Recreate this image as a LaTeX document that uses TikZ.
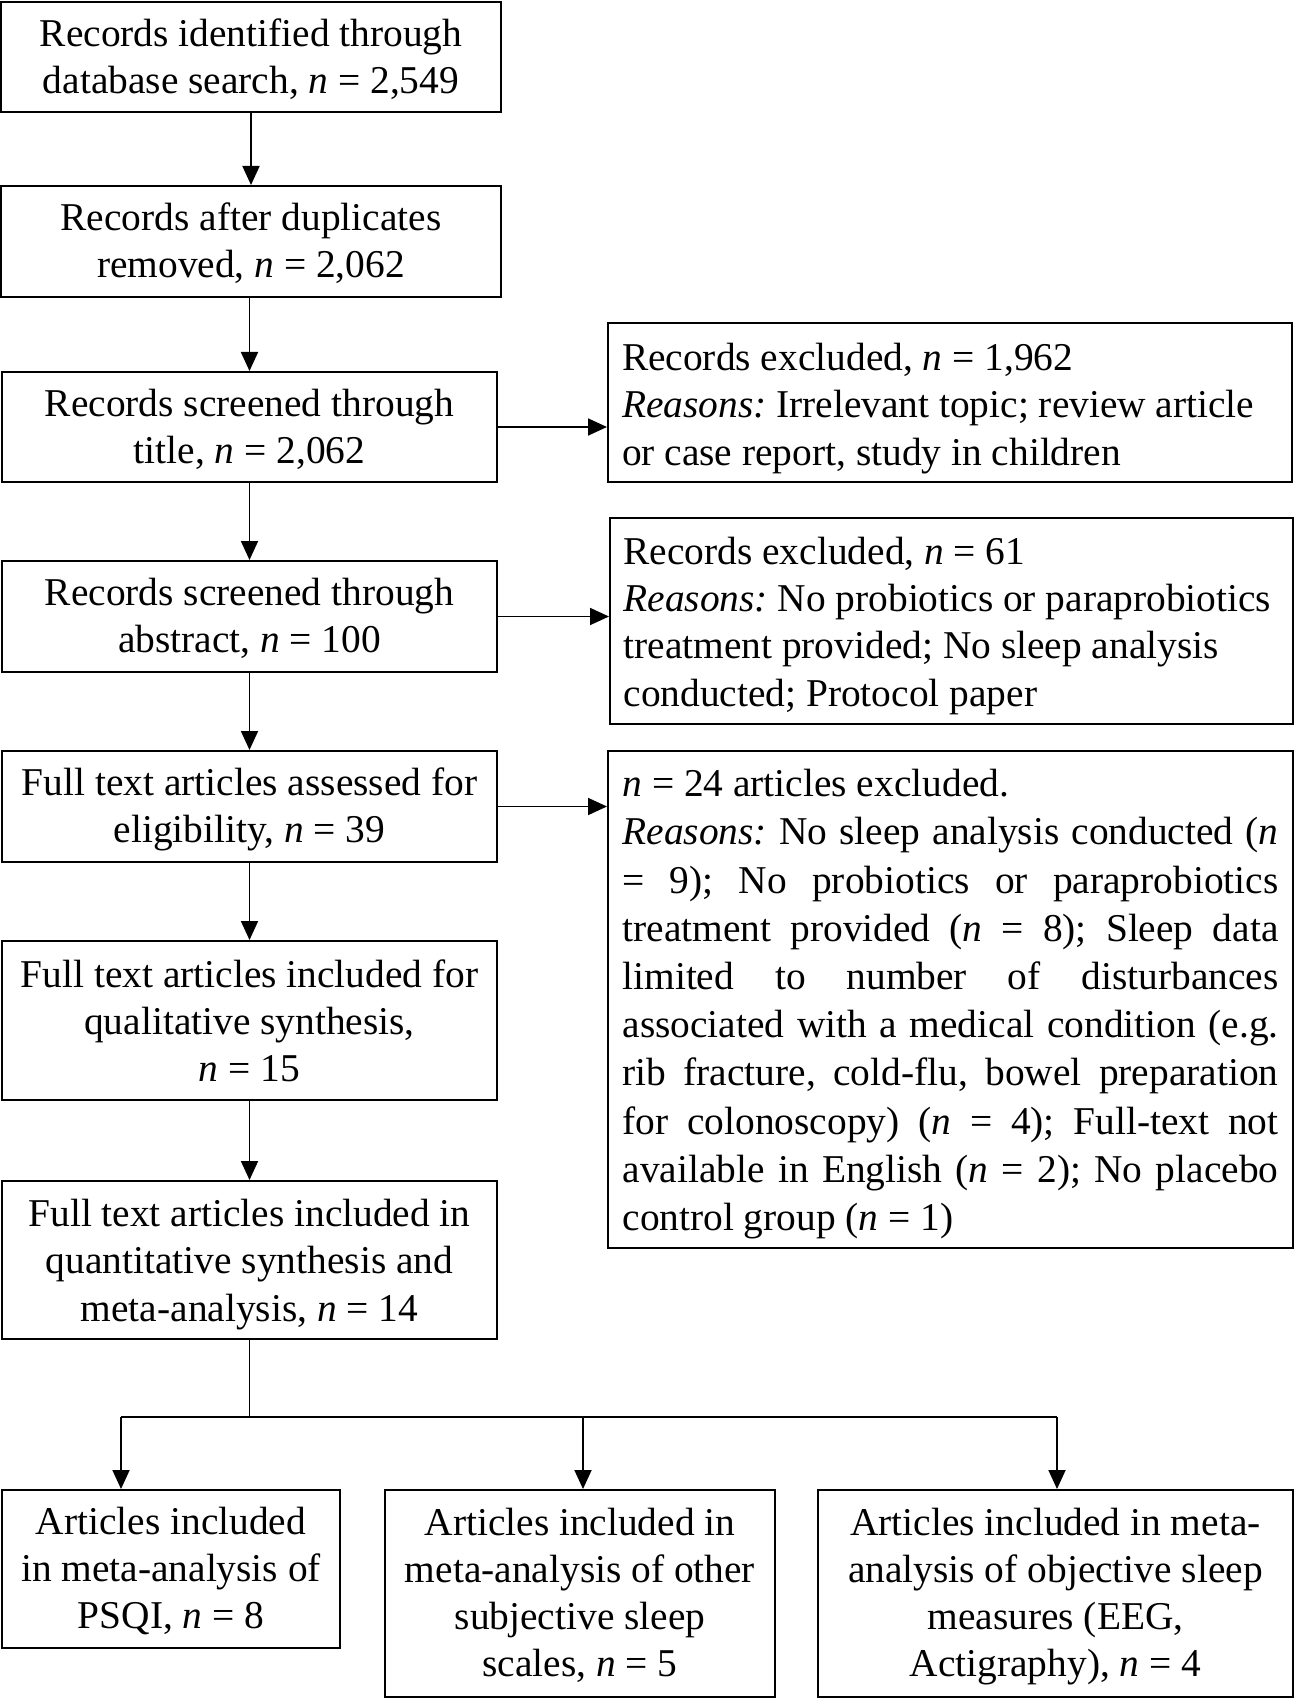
\documentclass[tikz,border=0pt]{standalone}
\usepackage{fontspec}
\setmainfont{Liberation Serif}
\usetikzlibrary{arrows.meta}
\frenchspacing
\newlength{\rcw}
\setlength{\rcw}{328pt}
\newcommand{\rsp}{\spaceskip=0pt\xspaceskip=0pt\relax}
\newcommand{\jline}[1]{\makebox[\rcw][s]{\rsp #1}}
\newcommand{\lline}[1]{\makebox[\rcw][l]{\rsp #1}}
\newcommand{\tb}[3][-1.6pt]{\raisebox{#1}[\height][\depth]{\rsp\begin{tabular}{@{}#2@{}}#3\end{tabular}}}
\begin{document}
\begin{tikzpicture}[x=0.5pt,y=-0.5pt,
  every node/.style={font=\fontsize{19.7}{23.6}\selectfont\rsp, execute at begin node=\rsp},
  mbox/.style={draw, line width=1pt, inner sep=0pt},
  arr/.style={-{Triangle[length=9.5pt,width=8.5pt]}, line width=0.9pt},
  ln/.style={line width=0.9pt}]
\fill[white] (0,0) rectangle (1296,1701);
\useasboundingbox (0,0) rectangle (1296,1701);

% main column
\node[mbox, minimum width=250pt, minimum height=55pt] (b1) at (251,57)
  {\tb{c}{Records identified through\\database search, \textit{n} = 2,549}};
\node[mbox, minimum width=250pt, minimum height=55.5pt] (b2) at (251,241.5)
  {\tb{c}{Records after duplicates\\removed, \textit{n} = 2,062}};
\node[mbox, minimum width=247.5pt, minimum height=55pt] (b3) at (249.5,427)
  {\tb{c}{Records screened through\\title, \textit{n} = 2,062}};
\node[mbox, minimum width=247.5pt, minimum height=55.5pt] (b4) at (249.5,616.5)
  {\tb{c}{Records screened through\\abstract, \textit{n} = 100}};
\node[mbox, minimum width=247.5pt, minimum height=55.5pt] (b5) at (249.5,806.5)
  {\tb{c}{Full text articles assessed for\\eligibility, \textit{n} = 39}};
\node[mbox, minimum width=247.5pt, minimum height=79.5pt] (b6) at (249.5,1020.5)
  {\tb[-2.2pt]{c}{Full text articles included for\\qualitative synthesis,\\\textit{n} = 15}};
\node[mbox, minimum width=247.5pt, minimum height=79pt] (b7) at (249.5,1260)
  {\tb[-2.2pt]{c}{Full text articles included in\\quantitative synthesis and\\meta-analysis, \textit{n} = 14}};

% right column
\node[mbox, minimum width=342pt, minimum height=79.5pt] (rA) at (950,402.5)
  {\tb[-3pt]{l}{\lline{Records excluded, \textit{n} = 1,962}\\
   \lline{\textit{Reasons:} Irrelevant topic; review article}\\
   \lline{or case report, study in children}}};
\node[mbox, minimum width=341.5pt, minimum height=103pt] (rB) at (951.5,621)
  {\tb[-2.4pt]{l}{\lline{Records excluded, \textit{n} = 61}\\
   \lline{\textit{Reasons:} No probiotics or paraprobiotics}\\
   \lline{treatment provided; No sleep analysis}\\
   \lline{conducted; Protocol paper}}};
\node[mbox, minimum width=342.5pt, minimum height=248.5pt,
      font=\fontsize{19.7}{24.1}\selectfont\rsp] (rC) at (950.5,999.5)
  {\tb[-2.2pt]{l}{\lline{\textit{n} = 24 articles excluded.}\\
   \jline{\textit{Reasons:} No sleep analysis conducted (\textit{n}}\\
   \jline{= 9); No probiotics or paraprobiotics}\\
   \jline{treatment provided (\textit{n} = 8); Sleep data}\\
   \jline{limited to number of disturbances}\\
   \jline{associated with a medical condition (e.g.}\\
   \jline{rib fracture, cold-flu, bowel preparation}\\
   \jline{for colonoscopy) (\textit{n} = 4); Full-text not}\\
   \jline{available in English (\textit{n} = 2); No placebo}\\
   \lline{control group (\textit{n} = 1)}}};

% bottom row
\node[mbox, minimum width=169pt, minimum height=79pt] (c1) at (171,1569)
  {\tb{c}{Articles included\\in meta-analysis of\\PSQI, \textit{n} = 8}};
\node[mbox, minimum width=195pt, minimum height=103.5pt] (c2) at (580,1593.5)
  {\tb{c}{Articles included in\\meta-analysis of other\\subjective sleep\\scales, \textit{n} = 5}};
\node[mbox, minimum width=237.5pt, minimum height=103.5pt] (c3) at (1055.5,1593.5)
  {\tb{c}{Articles included in meta-\\analysis of objective sleep\\measures (EEG,\\Actigraphy), \textit{n} = 4}};

% main arrows
\draw[arr] (b2.north |- b1.south) -- (b2.north);
\draw[arr] (b3.north |- b2.south) -- (b3.north);
\draw[arr] (b3.south) -- (b4.north);
\draw[arr] (b4.south) -- (b5.north);
\draw[arr] (b5.south) -- (b6.north);
\draw[arr] (b6.south) -- (b7.north);

% side arrows
\draw[arr] (b3.east) -- (b3.east -| rA.west);
\draw[arr] (b4.east) -- (b4.east -| rB.west);
\draw[arr] (b5.east) -- (b5.east -| rC.west);

% branching
\coordinate (j)  at (249.5,1417);
\coordinate (jl) at (121,1417);
\coordinate (jm) at (583,1417);
\coordinate (jr) at (1057,1417);
\draw[ln] (b7.south) -- (j);
\draw[ln] (jl) -- (jr);
\draw[arr] (jl) -- (jl |- c1.north);
\draw[arr] (jm) -- (jm |- c2.north);
\draw[arr] (jr) -- (jr |- c3.north);
\end{tikzpicture}
\end{document}
